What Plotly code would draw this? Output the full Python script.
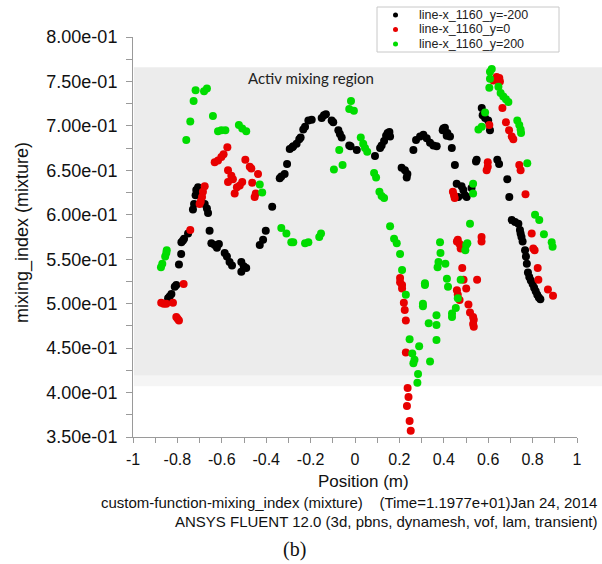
import plotly.graph_objects as go

# ---------------- data ----------------
black_x = [-0.842, -0.835, -0.827, -0.812, -0.805, -0.793, -0.783, -0.782, -0.775, -0.770, -0.752,
           -0.730, -0.725, -0.718, -0.715, -0.707, -0.700, -0.677, -0.667, -0.662, -0.655, -0.647,
           -0.632, -0.622, -0.613, -0.587, -0.577, -0.565, -0.554, -0.512, -0.501, -0.512, -0.490,
           -0.429, -0.414, -0.402, -0.373, -0.339, -0.332, -0.317, -0.306, -0.294, -0.282, -0.278,
           -0.263, -0.251, -0.245, -0.233, -0.225, -0.210, -0.195, -0.150, -0.140, -0.131, -0.105,
           -0.098, -0.075, -0.068, -0.060, -0.026, -0.020, 0.008, 0.090, 0.113, 0.120, 0.131, 0.140,
           0.147, 0.155, 0.158, 0.210, 0.225, 0.236, 0.233, 0.263, 0.275, 0.293, 0.308, 0.323, 0.338,
           0.353, 0.368, 0.395, 0.398, 0.405, 0.416, 0.413, 0.428, 0.436, 0.450, 0.458, 0.480, 0.488,
           0.495, 0.465, 0.503, 0.525, 0.548, 0.545, 0.571, 0.575, 0.586, 0.600, 0.608, 0.641, 0.649,
           0.686, 0.695, 0.706, 0.721, 0.736, 0.743, 0.746, 0.750, 0.755, 0.766, 0.770, 0.774, 0.779,
           0.785, 0.792, 0.800, 0.807, 0.814, 0.821, 0.828, 0.835]
black_y = [0.506, 0.508, 0.511, 0.519, 0.521, 0.544, 0.556, 0.569, 0.571, 0.573, 0.579,
           0.606, 0.612, 0.622, 0.628, 0.631, 0.627, 0.612, 0.607, 0.602, 0.582, 0.568,
           0.566, 0.563, 0.567, 0.557, 0.553, 0.547, 0.543, 0.547, 0.542, 0.536, 0.540,
           0.566, 0.572, 0.582, 0.609, 0.641, 0.643, 0.646, 0.657, 0.674, 0.676, 0.677,
           0.680, 0.685, 0.687, 0.696, 0.699, 0.706, 0.707, 0.709, 0.712, 0.713, 0.706,
           0.704, 0.695, 0.691, 0.687, 0.678, 0.677, 0.673, 0.666, 0.675, 0.678, 0.683, 0.689,
           0.692, 0.693, 0.688, 0.653, 0.650, 0.646, 0.642, 0.673, 0.684, 0.688, 0.690, 0.686, 0.681,
           0.678, 0.677, 0.695, 0.697, 0.698, 0.692, 0.689, 0.688, 0.675, 0.656, 0.635, 0.632, 0.628,
           0.622, 0.620, 0.620, 0.630, 0.662, 0.660, 0.720, 0.712, 0.709, 0.706, 0.695, 0.662, 0.657,
           0.640, 0.620, 0.594, 0.592, 0.590, 0.583, 0.579, 0.575, 0.570, 0.560, 0.553, 0.545, 0.535,
           0.530, 0.526, 0.522, 0.518, 0.514, 0.510, 0.507, 0.505]

red_x = [-0.873, -0.862, -0.850, -0.820, -0.805, -0.799, -0.793, -0.772, -0.742, -0.700, -0.695,
         -0.689, -0.685, -0.677, -0.632, -0.617, -0.602, -0.592, -0.575, -0.572, -0.557, -0.550,
         -0.572, -0.542, -0.532, -0.519, -0.508, -0.494, -0.474, -0.467, -0.463, -0.452, -0.447,
         -0.437, 0.203, 0.203, 0.212, 0.212, 0.220, 0.224, 0.229, 0.229, 0.237, 0.241, 0.234, 0.246,
         0.251, 0.441, 0.446, 0.449, 0.459, 0.463, 0.471, 0.476, 0.480, 0.483, 0.489, 0.459, 0.463,
         0.471, 0.501, 0.511, 0.518, 0.532, 0.535, 0.532, 0.535, 0.550, 0.570, 0.570, 0.593, 0.598,
         0.598, 0.605, 0.623, 0.638, 0.646, 0.650, 0.653, 0.664, 0.680, 0.694, 0.706, 0.713, 0.740,
         0.746, 0.768, 0.796, 0.803, 0.809, 0.823, 0.826, 0.869, 0.892]
red_y = [0.501, 0.500, 0.500, 0.501, 0.485, 0.483, 0.481, 0.522, 0.583, 0.612, 0.615,
         0.620, 0.626, 0.632, 0.659, 0.661, 0.665, 0.668, 0.676, 0.650, 0.644, 0.640,
         0.637, 0.624, 0.631, 0.633, 0.637, 0.662, 0.654, 0.652, 0.636, 0.620, 0.624,
         0.646, 0.529, 0.524, 0.521, 0.517, 0.501, 0.493, 0.481, 0.445, 0.405, 0.395, 0.385, 0.368,
         0.357, 0.626, 0.622, 0.619, 0.570, 0.572, 0.567, 0.562, 0.565, 0.540, 0.527, 0.515, 0.510,
         0.504, 0.517, 0.499, 0.490, 0.485, 0.482, 0.477, 0.474, 0.527, 0.575, 0.570, 0.650, 0.654,
         0.659, 0.701, 0.751, 0.755, 0.752, 0.754, 0.750, 0.720, 0.704, 0.695, 0.688, 0.685, 0.656,
         0.650, 0.623, 0.579, 0.562, 0.560, 0.540, 0.527, 0.516, 0.509]

green_x = [-0.874, -0.868, -0.855, -0.850, -0.848, -0.760, -0.742, -0.727, -0.718, -0.680, -0.667,
           -0.640, -0.617, -0.602, -0.584, -0.523, -0.508, -0.490, -0.429, -0.418, -0.332, -0.309,
           -0.287, -0.278, -0.225, -0.210, -0.161, -0.153, -0.095, -0.071, -0.056, -0.026, -0.018,
           -0.005, 0.026, 0.037, 0.045, 0.055, 0.086, 0.095, 0.110, 0.120, 0.131, 0.158, 0.176, 0.188,
           0.203, 0.212, 0.229, 0.246, 0.258, 0.268, 0.263, 0.284, 0.281, 0.289, 0.306, 0.306, 0.315,
           0.315, 0.332, 0.338, 0.367, 0.367, 0.367, 0.372, 0.376, 0.385, 0.383, 0.407, 0.414, 0.419,
           0.437, 0.437, 0.454, 0.463, 0.476, 0.497, 0.501, 0.506, 0.518, 0.532, 0.532, 0.556, 0.571,
           0.586, 0.605, 0.608, 0.608, 0.616, 0.646, 0.656, 0.668, 0.680, 0.691, 0.731, 0.740, 0.746,
           0.748, 0.776, 0.811, 0.830, 0.851, 0.886, 0.890]
green_y = [0.541, 0.545, 0.553, 0.557, 0.560, 0.684, 0.705, 0.728, 0.740, 0.739, 0.742,
           0.711, 0.694, 0.695, 0.695, 0.701, 0.697, 0.694, 0.634, 0.625, 0.585, 0.579,
           0.569, 0.569, 0.568, 0.569, 0.575, 0.579, 0.651, 0.673, 0.656, 0.719, 0.728,
           0.717, 0.687, 0.680, 0.675, 0.671, 0.647, 0.642, 0.626, 0.621, 0.619, 0.587, 0.573, 0.568,
           0.556, 0.538, 0.510, 0.460, 0.444, 0.437, 0.433, 0.421, 0.411, 0.452, 0.497, 0.500, 0.521,
           0.523, 0.478, 0.435, 0.459, 0.476, 0.487, 0.541, 0.547, 0.557, 0.569, 0.545, 0.528, 0.519,
           0.489, 0.485, 0.495, 0.506, 0.527, 0.560, 0.566, 0.568, 0.590, 0.624, 0.635, 0.696, 0.699,
           0.715, 0.743, 0.753, 0.761, 0.764, 0.744, 0.737, 0.733, 0.730, 0.727, 0.706, 0.701, 0.696,
           0.692, 0.658, 0.600, 0.594, 0.578, 0.569, 0.564]

series_names = ["line-x_1160_y=-200", "line-x_1160_y=0", "line-x_1160_y=200"]
series_colors = ["#000000", "#e80000", "#00dc00"]

x_tickvals = [-1, -0.8, -0.6, -0.4, -0.2, 0, 0.2, 0.4, 0.6, 0.8, 1]
x_ticktext = ["-1", "-0.8", "-0.6", "-0.4", "-0.2", "0", "0.2", "0.4", "0.6", "0.8", "1"]
y_tickvals = [0.35, 0.40, 0.45, 0.50, 0.55, 0.60, 0.65, 0.70, 0.75, 0.80]
y_ticktext = ["3.50e-01", "4.00e-01", "4.50e-01", "5.00e-01", "5.50e-01", "6.00e-01",
              "6.50e-01", "7.00e-01", "7.50e-01", "8.00e-01"]

region_low, region_mid, region_high = 0.407, 0.419, 0.766
region_label = "Activ mixing region"

# ---------------- figure ----------------
fig = go.Figure()
for xs, ys, name, col in zip([black_x, red_x, green_x], [black_y, red_y, green_y],
                             series_names, series_colors):
    fig.add_trace(go.Scatter(x=xs, y=ys, mode="markers", name=name,
                             marker=dict(color=col, size=8, line=dict(width=0)),
                             cliponaxis=False, showlegend=False))

PX_L, PX_R = 133, 577
PX_T, PX_B = 37, 437
W = PX_R - PX_L
H = PX_B - PX_T

def px(xp):
    return (xp - PX_L) / W

def py(yp):
    return (PX_B - yp) / H

axis_col = "#9a9a9a"
font_main = "Arial, Liberation Sans, sans-serif"

# gray band (active mixing region)
fig.add_shape(type="rect", xref="paper", yref="y", x0=0.002, x1=px(602) + 0.01,
              y0=region_mid, y1=region_high, fillcolor="#ececec", line_width=0, layer="below")
fig.add_shape(type="rect", xref="paper", yref="y", x0=0.002, x1=px(602) + 0.01,
              y0=region_low, y1=region_mid, fillcolor="#f5f5f5", line_width=0, layer="below")

fig.add_annotation(x=-0.198, y=0.7535, xref="x", yref="y", text=region_label, showarrow=False,
                   xanchor="center", yanchor="middle",
                   font=dict(family="Lato, Open Sans, sans-serif", size=15, color="#222222"))

# legend box (drawn manually to mimic the Fluent legend)
fig.add_shape(type="rect", xref="paper", yref="paper", x0=px(377), x1=px(559),
              y0=py(52), y1=py(7), line=dict(color="#c8c8c8", width=1), fillcolor="white")
rows = [15, 29.5, 44]
for name, col, r in zip(series_names, series_colors, rows):
    fig.add_shape(type="circle", xref="paper", yref="paper",
                  x0=px(393), x1=px(398), y0=py(r + 2.5), y1=py(r - 2.5),
                  fillcolor=col, line_width=0)
    fig.add_annotation(x=px(417), y=py(r), xref="paper", yref="paper", text=name,
                       showarrow=False, xanchor="left", yanchor="middle",
                       font=dict(family=font_main, size=12.5, color="#222222"))

# axis titles
fig.add_annotation(x=px(22), y=py(233), xref="paper", yref="paper", text="mixing_index (mixture)",
                   textangle=-90, showarrow=False, xanchor="center", yanchor="middle",
                   font=dict(family=font_main, size=18, color="#111"))
fig.add_annotation(x=px(363), y=py(481), xref="paper", yref="paper", text="Position (m)",
                   showarrow=False, xanchor="center", yanchor="middle",
                   font=dict(family=font_main, size=17, color="#111"))

# footer
fig.add_annotation(x=px(599), y=py(502), xref="paper", yref="paper",
                   text="custom-function-mixing_index (mixture)    (Time=1.1977e+01)Jan 24, 2014",
                   showarrow=False, xanchor="right", yanchor="middle",
                   font=dict(family=font_main, size=15, color="#111"))
fig.add_annotation(x=px(599), y=py(521), xref="paper", yref="paper",
                   text="ANSYS FLUENT 12.0 (3d, pbns, dynamesh, vof, lam, transient)",
                   showarrow=False, xanchor="right", yanchor="middle",
                   font=dict(family=font_main, size=15, color="#111"))
fig.add_annotation(x=px(294), y=py(549), xref="paper", yref="paper", text="(b)",
                   showarrow=False, xanchor="center", yanchor="middle",
                   font=dict(family="Liberation Serif, Times New Roman, serif",
                             size=20, color="#111"))

fig.update_xaxes(range=[-1, 1], tickvals=x_tickvals, ticktext=x_ticktext,
                 showline=True, linecolor=axis_col, linewidth=1, ticks="outside", ticklen=5,
                 tickcolor=axis_col, showgrid=False, zeroline=False,
                 minor=dict(dtick=0.1, tick0=-1, ticks="outside", ticklen=5, tickcolor=axis_col,
                            showgrid=False),
                 tickfont=dict(family=font_main, size=16, color="#111"), ticklabelstandoff=3)
fig.update_yaxes(range=[0.35, 0.80], tickvals=y_tickvals, ticktext=y_ticktext,
                 showline=True, linecolor=axis_col, linewidth=1, ticks="outside", ticklen=6,
                 tickcolor=axis_col, showgrid=False, zeroline=False,
                 minor=dict(dtick=0.025, tick0=0.35, ticks="outside", ticklen=6, tickcolor=axis_col,
                            showgrid=False),
                 tickfont=dict(family=font_main, size=18, color="#111"), ticklabelstandoff=5)

fig.update_layout(width=602, height=564, autosize=False,
                  margin=dict(l=PX_L, r=602 - PX_R, t=PX_T, b=564 - PX_B),
                  plot_bgcolor="rgba(0,0,0,0)", paper_bgcolor="white", showlegend=False)

fig.write_html("out.html")
